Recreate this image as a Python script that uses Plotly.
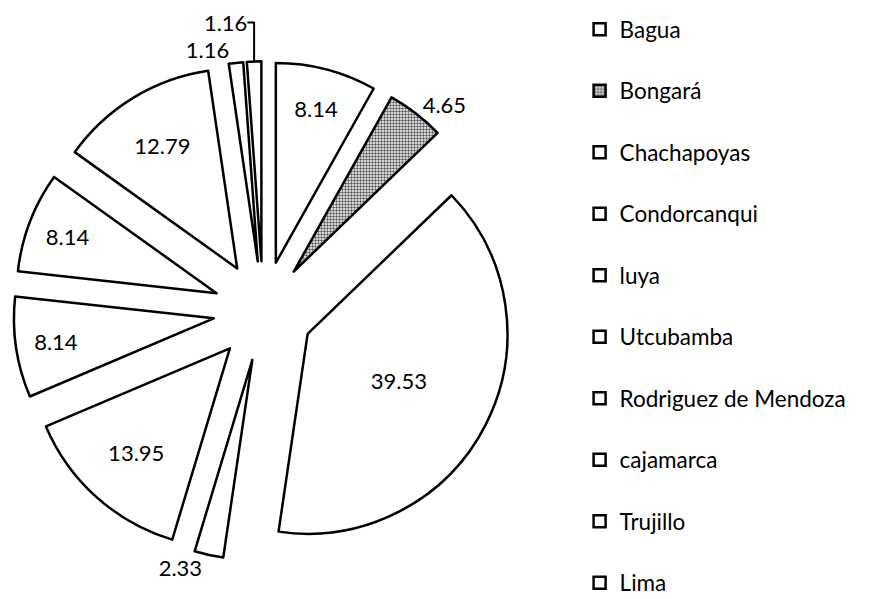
import plotly.graph_objects as go

# provinces and share (%)
labels = ["Bagua", "Bongará", "Chachapoyas", "Condorcanqui", "luya",
          "Utcubamba", "Rodriguez de Mendoza", "cajamarca", "Trujillo", "Lima"]
values = [8.14, 4.65, 39.53, 2.33, 13.95, 8.14, 8.14, 12.79, 1.16, 1.16]
text_pos = ["inside", "outside", "inside", "outside", "inside",
            "inside", "inside", "inside", "outside", "outside"]

# extra blank line gives the wide legend spacing of the original
legend_labels = [l + "<br>\u00a0" for l in labels[:-1]] + [labels[-1]]

colors = ["white"] * len(labels)
shapes = [""] * len(labels)
shapes[1] = "."   # Bongará is the only shaded wedge

fig = go.Figure()
fig.add_trace(go.Pie(
    labels=legend_labels,
    values=values,
    sort=False,
    direction="clockwise",
    rotation=0,
    pull=[0.25] * len(values),
    textinfo="value",
    texttemplate="%{value:.2f}",
    textposition=text_pos,
    insidetextorientation="horizontal",
    textfont=dict(family="Lato", size=22, color="black"),
    marker=dict(colors=colors,
                line=dict(color="black", width=2.5),
                pattern=dict(shape=shapes, fgcolor="#555", bgcolor="white",
                             size=3, solidity=0.5)),
    hoverinfo="skip",
    domain=dict(x=[0.006, 0.578], y=[0.077, 0.911]),
))

fig.update_layout(
    width=874, height=599,
    margin=dict(l=0, r=0, t=0, b=0, autoexpand=False),
    paper_bgcolor="white",
    plot_bgcolor="white",
    showlegend=True,
    legend=dict(x=0.654, y=1, xanchor="left", yanchor="top",
                valign="top",
                font=dict(family="Lato", size=22.5, color="black"),
                bgcolor="rgba(0,0,0,0)"),
)

fig.write_html("out.html")
